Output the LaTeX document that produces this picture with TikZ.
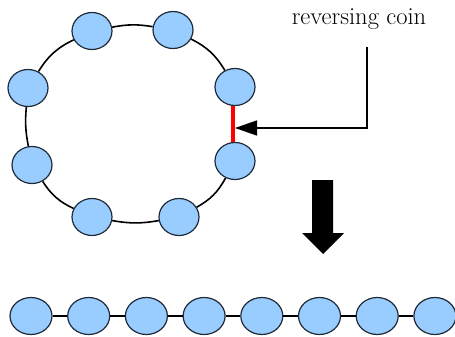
\documentclass[tikz,border=0pt]{standalone}
\usepackage{tikz}
\usetikzlibrary{arrows.meta, positioning, shapes.geometric}
\definecolor{coinblue}{HTML}{99CCFF}
\definecolor{coinline}{HTML}{1E2A38}
\tikzstyle{coin}=[ellipse, draw=coinline, fill=coinblue, line width=1.2pt, minimum width=40pt, minimum height=37pt, inner sep=0pt]
\tikzstyle{link}=[-, line width=1.6pt, black]

\begin{document}
\begin{tikzpicture}[x=1pt, y=-1pt, >=Triangle, node distance=57.7pt]
    \useasboundingbox (0,0) rectangle (455,337);

    % the ring of coins
    \node[coin] (r1) at (235,87)  {};
    \node[coin] (r2) at (173,30)  {};
    \node[coin] (r3) at (92,31)   {};
    \node[coin] (r4) at (28,88)   {};
    \node[coin] (r5) at (32,165)  {};
    \node[coin] (r6) at (92,217)  {};
    \node[coin] (r7) at (179,217) {};
    \node[coin] (r8) at (235,161) {};

    \path[link]
      (r1) edge[bend right=16] (r2)
      (r2) edge[bend right=10] (r3)
      (r3) edge[bend right=16] (r4)
      (r4) edge[bend right=8] (r5)
      (r5) edge[bend right=16] (r6)
      (r6) edge[bend right=10] (r7)
      (r7) edge[bend right=16] (r8);
    \draw[red, line width=3.5pt] ([xshift=-2pt]r1.south) -- ([xshift=-2pt]r8.north);
    \coordinate (tip) at (235,128);

    % label and pointer
    \node (label) at (359,19) {\fontsize{24.5}{28}\selectfont reversing coin};
    \draw[->, line width=1.6pt, >={Triangle[length=22pt, width=15pt]}]
      ([xshift=8pt, yshift=-14pt]label.south) |- (tip);

    % big down arrow
    \fill[black] (312,180) -- (333,180) -- (333,233) -- (344,233)
      -- (323,254) -- (302,233) -- (312,233) -- cycle;

    % the opened chain
    \node[coin, minimum width=42pt] (c1) at (31,316) {};
    \node[coin, minimum width=42pt] (c2) [right of=c1] {};
    \node[coin, minimum width=42pt] (c3) [right of=c2] {};
    \node[coin, minimum width=42pt] (c4) [right of=c3] {};
    \node[coin, minimum width=42pt] (c5) [right of=c4] {};
    \node[coin, minimum width=42pt] (c6) [right of=c5] {};
    \node[coin, minimum width=42pt] (c7) [right of=c6] {};
    \node[coin, minimum width=42pt] (c8) [right of=c7] {};

    \path[link]
      (c1) edge (c2)
      (c2) edge (c3)
      (c3) edge (c4)
      (c4) edge (c5)
      (c5) edge (c6)
      (c6) edge (c7)
      (c7) edge (c8);
  \end{tikzpicture}
\end{document}
